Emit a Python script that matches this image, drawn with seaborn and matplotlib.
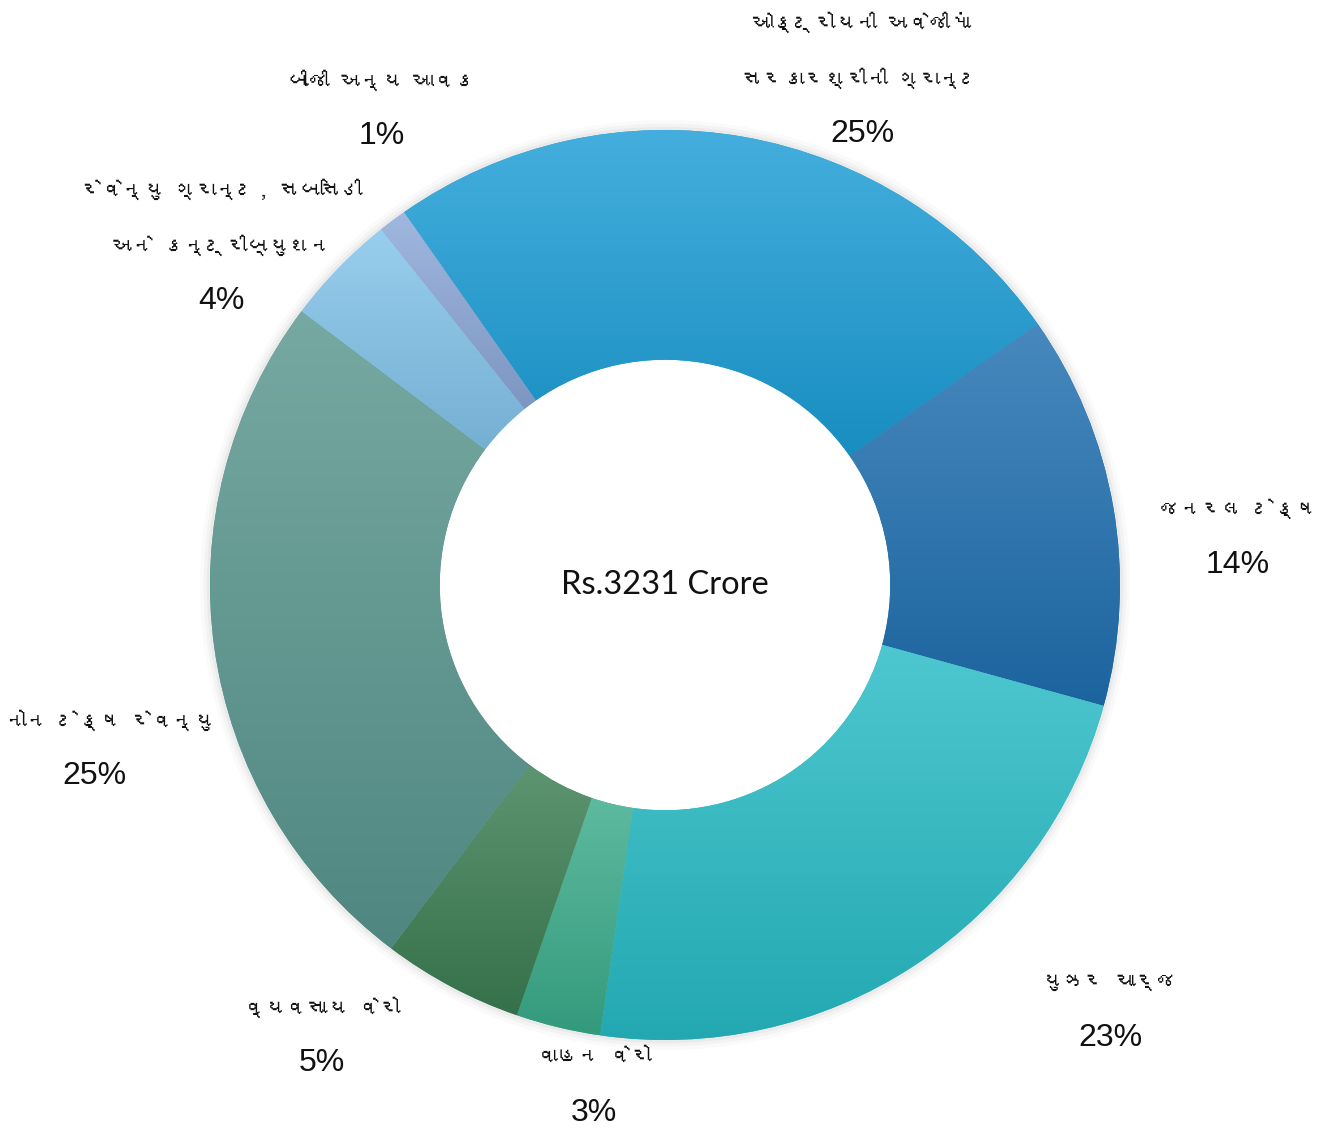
import matplotlib
matplotlib.use("Agg")
import numpy as np
import matplotlib.pyplot as plt
import seaborn as sns
from matplotlib import font_manager
from matplotlib.ft2font import FT2Font
from matplotlib.patches import Wedge
from matplotlib.colors import to_rgb

sns.set_theme(style="white")

# ---- data ----
categories = [
    "ઓક્ટ્રોયની અવેજીમાં\nસરકારશ્રીની ગ્રાન્ટ",
    "જનરલ ટેક્ષ",
    "યુઝર ચાર્જ",
    "વાહન વેરો",
    "વ્યવસાય વેરો",
    "નોન ટેક્ષ રેવન્યુ",
    "રેવેન્યુ ગ્રાન્ટ, સબસિડી\nઅને કન્ટ્રીબ્યુશન",
    "બીજી અન્ય આવક",
]
shares = [25, 14, 23, 3, 5, 25, 4, 1]
center_text = "Rs.3231 Crore"

colors = ["#1b9dd6", "#1f6fb0", "#27bbc5", "#3aab8a", "#3a7d52", "#58968e", "#82c3ea", "#8ba7d7"]

# label block centres (in radius units, relative to donut centre)
label_pos = [(0.433, 1.114), (1.259, 0.105), (0.978, -0.934), (-0.156, -1.099),
             (-0.754, -0.989), (-1.253, -0.358), (-0.974, 0.747), (-0.622, 1.048)]

# find a font that has Gujarati glyphs
guj_family = None
for f in font_manager.fontManager.ttflist:
    try:
        cm = FT2Font(f.fname).get_charmap()
        if 0x0A97 in cm and 0x0A95 in cm:
            guj_family = f.name
            break
    except Exception:
        pass
label_families = ([guj_family] if guj_family else []) + ["Liberation Sans", "DejaVu Sans"]

W, H = 1337, 1130
cx, cy, R = 665, 585, 455
fig = plt.figure(figsize=(W / 100, H / 100), dpi=100)
ax = fig.add_axes([0, 0, 1, 1])

# soft shadow ring around the donut
for k, a in [(1.022, 0.04), (1.014, 0.06), (1.007, 0.08)]:
    ax.add_patch(Wedge((0, 0), k, 0, 360, width=k - 0.99, color="#888888", alpha=a, lw=0))

wedges, _ = ax.pie(shares, colors=colors, startangle=125, counterclock=False,
                   radius=1.0, wedgeprops=dict(width=0.505, edgecolor="none"))

# vertical gradient inside each wedge (lighter on top, darker at bottom)
for w, c in zip(wedges, colors):
    t = np.radians(np.linspace(w.theta1, w.theta2, 200))
    ys = np.concatenate([w.r * np.sin(t), (w.r - w.width) * np.sin(t)])
    y0, y1 = ys.min(), ys.max()
    base = np.array(to_rgb(c))
    top = base + (1 - base) * 0.18
    bot = base * 0.9
    f = np.linspace(0, 1, 256)[:, None]  # 0 = top row
    grad = top * (1 - f) + bot * f
    img = np.repeat(grad[:, None, :], 2, axis=1)
    im = ax.imshow(img, extent=(-1, 1, y0, y1), aspect="auto", zorder=w.get_zorder(),
                   interpolation="bilinear")
    im.set_clip_path(w)

ax.text(0, 0, center_text, ha="center", va="center", fontsize=23.5,
        family=["Lato", "DejaVu Sans"], color="#111111", zorder=5)

texts = []
for lab, pct, (x, y) in zip(categories, shares, label_pos):
    nlines = lab.count("\n") + 1
    line_h = 56 / R
    top = y + nlines * line_h / 2
    for i, line in enumerate(lab.split("\n")):
        texts.append(ax.text(x, top - i * line_h, line, ha="center", va="center", fontsize=15,
                             family=label_families, color="#111111"))
    texts.append(ax.text(x, top - nlines * line_h, f"{pct}%", ha="center", va="center",
                         fontsize=23, family=["Liberation Sans", "DejaVu Sans"], color="#111111"))

ax.set_xlim(-cx / R, (W - cx) / R)
ax.set_ylim(-(H - cy) / R, cy / R)
ax.set_aspect("equal")
ax.axis("off")

# keep labels inside the canvas
fig.canvas.draw()
rend = fig.canvas.get_renderer()
for t in texts:
    bb = t.get_window_extent(rend)
    dx = 0
    if bb.x0 < 6:
        dx = 6 - bb.x0
    elif bb.x1 > W - 6:
        dx = (W - 6) - bb.x1
    if dx:
        x, y = t.get_position()
        t.set_position((x + dx / R, y))

fig.savefig("out.png", dpi=100, facecolor="white")
